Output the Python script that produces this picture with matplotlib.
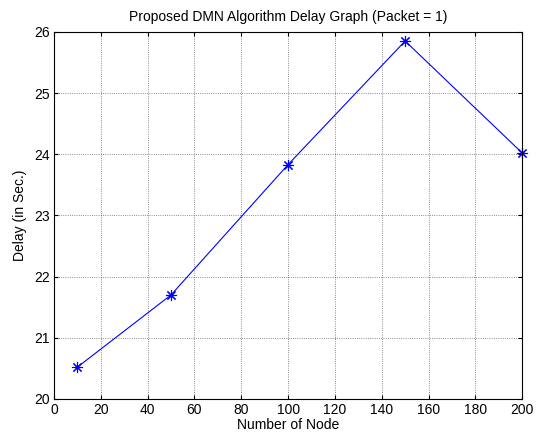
import matplotlib
matplotlib.use("Agg")
import matplotlib.pyplot as plt

plt.rcParams['font.family'] = ['Liberation Sans', 'DejaVu Sans']

nodes = [10, 50, 100, 150, 200]
delay = [20.52, 21.70, 23.83, 25.85, 24.02]
xticks = [0, 20, 40, 60, 80, 100, 120, 140, 160, 180, 200]
yticks = [20, 21, 22, 23, 24, 25, 26]

fig = plt.figure(figsize=(5.4, 4.36), dpi=100)
ax = fig.add_axes([0.1, 0.085, 0.867, 0.842])
ax.plot(nodes, delay, color='blue', linewidth=0.8, marker=(8, 2, 0), markersize=8,
        markeredgewidth=0.8, clip_on=False)
ax.set_xlim(0, 200)
ax.set_ylim(20, 26)
ax.set_xticks(xticks)
ax.set_yticks(yticks)
ax.grid(True, linestyle=':', color='black', linewidth=0.6, alpha=0.6)
ax.tick_params(direction='in', top=True, right=True, labelsize=10, length=3, pad=3)
for s in ax.spines.values():
    s.set_linewidth(0.8)
ax.set_xlabel('Number of Node', fontsize=10, labelpad=1)
ax.set_ylabel('Delay (in Sec.)', fontsize=10, labelpad=5)
ax.set_title('Proposed DMN Algorithm Delay Graph (Packet = 1)', fontsize=10, pad=8)
fig.savefig('out.png', dpi=100)
